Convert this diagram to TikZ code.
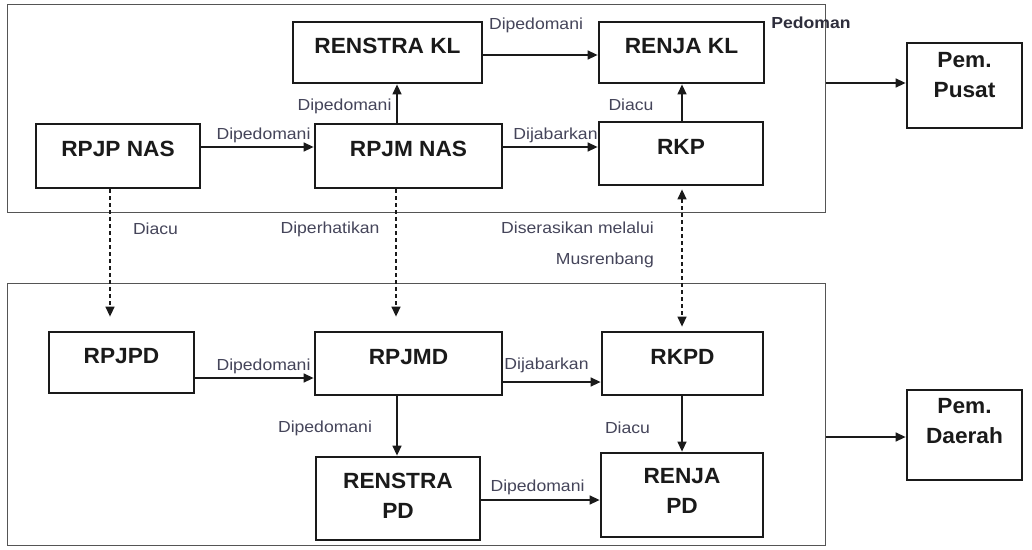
\documentclass[tikz,border=0pt]{standalone}
\usepackage{fontspec}
\setmainfont{Liberation Sans}
\newfontfamily\lblfont[FakeStretch=1.1]{Liberation Sans}
\newfontfamily\bxfont[FakeStretch=1.03]{Liberation Sans}
\usetikzlibrary{arrows.meta,calc}
\definecolor{lblc}{HTML}{45455A}
\definecolor{pedc}{HTML}{2E2E3C}
\definecolor{ink}{HTML}{1A1A1A}
\definecolor{frc}{HTML}{555555}
\newcommand\bt[2][0pt]{\smash{\raisebox{#1}{\begin{tabular}{@{}c@{}}#2\end{tabular}}}}
\begin{document}
\begin{tikzpicture}[x=1pt,y=-1pt,
  bx/.style={draw=ink, line width=2.8pt, inner sep=0pt, text=ink,
    font=\bxfont\fontsize{22}{30}\selectfont\bfseries},
  fr/.style={draw=frc, line width=1pt, inner sep=0pt},
  lbl/.style={text=lblc, font=\lblfont\fontsize{16}{31}\selectfont, inner sep=0pt},
  ar/.style={draw=ink, line width=1.4pt, -{Triangle[length=10pt,width=9pt]}},
  dar/.style={ar, dash pattern=on 4pt off 3pt},
]
\useasboundingbox[fill=white] (0,0) rectangle (1032,549);

% frames
\node[fr, minimum width=818pt, minimum height=208pt] (topf) at (416,108) {};
\node[fr, minimum width=818pt, minimum height=262pt] (botf) at (416,414) {};

% boxes
\node[bx, minimum width=189pt, minimum height=61pt] (renstrakl) at (387.5,52.5) {\bt{RENSTRA KL}};
\node[bx, minimum width=165pt, minimum height=61pt] (renjakl) at (681.5,52.5) {\bt{RENJA KL}};
\node[bx, minimum width=164pt, minimum height=64pt] (rpjpnas) at (118,156) {\bt{RPJP NAS}};
\node[bx, minimum width=187pt, minimum height=64pt] (rpjmnas) at (408.5,156) {\bt{RPJM NAS}};
\node[bx, minimum width=164pt, minimum height=63pt] (rkp) at (681,153.5) {\bt{RKP}};
\node[bx, minimum width=115pt, minimum height=85pt] (pempusat) at (964.5,85.5) {\bt[4.25pt]{Pem.\\Pusat}};

\node[bx, minimum width=145pt, minimum height=61pt] (rpjpd) at (121.5,362.5) {\bt{RPJPD}};
\node[bx, minimum width=187pt, minimum height=63pt] (rpjmd) at (408.5,363.5) {\bt{RPJMD}};
\node[bx, minimum width=161pt, minimum height=63pt] (rkpd) at (682.5,363.5) {\bt{RKPD}};
\node[bx, minimum width=164pt, minimum height=83pt] (renstrapd) at (398,498.5) {\bt[-3.75pt]{RENSTRA\\PD}};
\node[bx, minimum width=162pt, minimum height=84pt] (renjapd) at (682,495) {\bt[-2.75pt]{RENJA\\PD}};
\node[bx, minimum width=115pt, minimum height=90pt] (pemdaerah) at (964.5,435) {\bt[7.25pt]{Pem.\\Daerah}};

% alignment coordinates
\coordinate (xa) at (397,0);
\coordinate (xb) at (682,0);
\coordinate (xc) at (110,0);
\coordinate (xd) at (396,0);
\coordinate (ya) at (0,55);
\coordinate (yb) at (0,147);
\coordinate (yc) at (0,147);
\coordinate (yd) at (0,83);
\coordinate (ye) at (0,378);
\coordinate (yf) at (0,382);
\coordinate (yg) at (0,500);
\coordinate (yh) at (0,437);

% connectors
\draw[ar] (renstrakl.east |- ya) -- (renjakl.west |- ya);
\draw[ar] (rpjpnas.east |- yb) -- (rpjmnas.west |- yb);
\draw[ar] (rpjmnas.east |- yc) -- (rkp.west |- yc);
\draw[ar] (rpjmnas.north -| xa) -- (renstrakl.south -| xa);
\draw[ar] (rkp.north -| xb) -- (renjakl.south -| xb);
\draw[dar, {Triangle[length=10pt,width=9pt]}-{Triangle[length=10pt,width=9pt]}, shorten <=3pt, shorten >=4pt] (rkp.south -| xb) -- (rkpd.north -| xb);
\draw[ar] (topf.east |- yd) -- (pempusat.west |- yd);
\draw[dar, shorten >=14pt] (rpjpnas.south -| xc) -- (rpjpd.north -| xc);
\draw[dar, shorten >=14pt] (rpjmnas.south -| xd) -- (rpjmd.north -| xd);
\draw[ar] (rpjpd.east |- ye) -- (rpjmd.west |- ye);
\draw[ar] (rpjmd.east |- yf) -- (rkpd.west |- yf);
\draw[ar] (rpjmd.south -| xa) -- (renstrapd.north -| xa);
\draw[ar] (rkpd.south -| xb) -- (renjapd.north -| xb);
\draw[ar] (renstrapd.east |- yg) -- (renjapd.west |- yg);
\draw[ar] (botf.east |- yh) -- (pemdaerah.west |- yh);

% labels
\node[lbl] (l1) at (536,25) {Dipedomani};
\node[lbl, text=pedc, font=\lblfont\fontsize{16}{31}\selectfont\bfseries] (lped) at (811,23) {Pedoman};
\node[lbl] (l2) at (344.5,106) {Dipedomani};
\node[lbl] (l3) at (263.5,135) {Dipedomani};
\node[lbl] (l4) at (555.5,135) {Dijabarkan};
\node[lbl] (l5) at (631,105) {Diacu};
\node[lbl] (l6) at (155.5,229) {Diacu};
\node[lbl] (l7) at (330,229) {Diperhatikan};
\node[lbl, anchor=east, align=right] (l8) at (654,244.5) {Diserasikan melalui\\Musrenbang};
\node[lbl] (l9) at (263.5,366) {Dipedomani};
\node[lbl] (l10) at (546.5,365) {Dijabarkan};
\node[lbl] (l11) at (325,428) {Dipedomani};
\node[lbl] (l12) at (627.5,428) {Diacu};
\node[lbl] (l13) at (537.5,487) {Dipedomani};
\end{tikzpicture}
\end{document}
